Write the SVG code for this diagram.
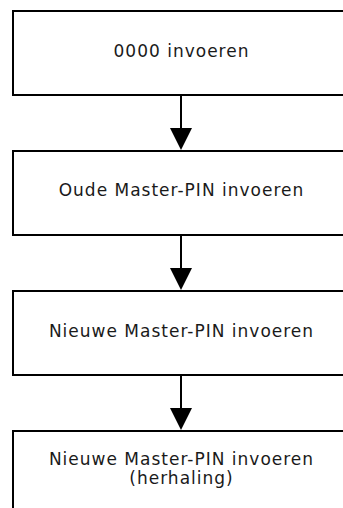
<svg xmlns="http://www.w3.org/2000/svg" width="343" height="508" viewBox="0 0 343 508">
<defs>
<style>
.box{fill:#fff;stroke:#000;stroke-width:2}
.lbl{font-family:"DejaVu Sans","Liberation Sans",sans-serif;font-size:17px;letter-spacing:1px;fill:#1a1a1a;text-anchor:middle}
.con{stroke:#000;stroke-width:2;fill:none}
.head{fill:#000}
</style>
</defs>
<rect width="343" height="508" fill="#fff"/>
<g id="connectors">
<line class="con" x1="181" y1="95" x2="181" y2="130"/>
<polygon class="head" points="170,128 192,128 181,150"/>
<line class="con" x1="181" y1="235" x2="181" y2="270"/>
<polygon class="head" points="170,268 192,268 181,290"/>
<line class="con" x1="181" y1="375" x2="181" y2="410"/>
<polygon class="head" points="170,408 192,408 181,430"/>
</g>
<g id="node1">
<rect class="box" x="13" y="11" width="336" height="84"/>
<text class="lbl" x="181.5" y="57">0000 invoeren</text>
</g>
<g id="node2">
<rect class="box" x="13" y="151" width="336" height="84"/>
<text class="lbl" x="181.5" y="196">Oude Master-PIN invoeren</text>
</g>
<g id="node3">
<rect class="box" x="13" y="291" width="336" height="84"/>
<text class="lbl" x="181.5" y="337">Nieuwe Master-PIN invoeren</text>
</g>
<g id="node4">
<rect class="box" x="13" y="431" width="336" height="84"/>
<text class="lbl" x="181.5" y="465">Nieuwe Master-PIN invoeren</text>
<text class="lbl" x="181.5" y="484">(herhaling)</text>
</g>
</svg>
